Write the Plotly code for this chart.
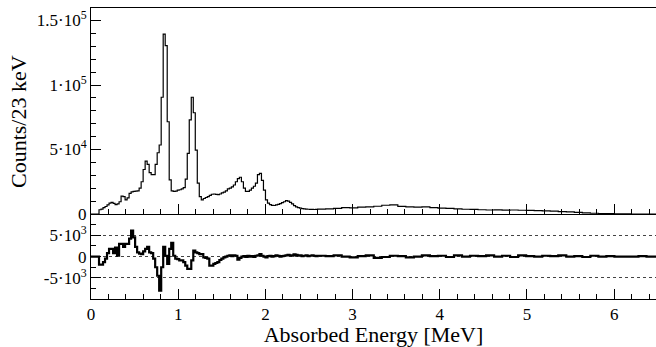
import numpy as np
import plotly.graph_objects as go

# ---------------- data ----------------
FINE_WIDTH = 0.023   # MeV, 0 - 2.599 MeV
TAIL_WIDTH = 0.092   # MeV, 2.599 MeV - end (rebinned tail)

# counts (x1000) per fine bin
counts_fine_k = [
    0, 0, 0, 0, 3.3, 3.8, 5.0, 5.8, 7.0, 8.5,
    9.0, 8.2, 7.3, 7.8, 9.5, 13.8, 13.5, 11.0, 12.5, 16.0,
    17.2, 17.6, 17.8, 18.0, 20.0, 25.0, 34.5, 41.0, 38.5, 32.0,
    30.5, 30.5, 38.5, 47.5, 53.5, 90.5, 139.5, 130.5, 71.5, 26.5,
    18.0, 17.5, 17.8, 18.5, 18.8, 19.5, 20.5, 27.0, 47.0, 73.0,
    90.5, 78.5, 49.5, 24.0, 13.5, 11.0, 12.0, 12.8, 13.5, 14.5,
    15.3, 15.5, 15.2, 15.0, 15.5, 16.3, 17.0, 18.0, 19.5, 20.0,
    21.0, 22.5, 25.0, 27.5, 28.5, 25.0, 20.0, 17.5, 17.5, 18.5,
    20.0, 21.5, 24.0, 30.5, 31.5, 26.0, 18.5, 11.0, 8.5, 7.2,
    6.7, 6.6, 7.0, 7.5, 8.0, 8.8, 9.5, 10.3, 10.0, 9.0,
    7.8, 6.5, 5.6, 5.0, 4.5, 4.2, 4.0, 3.8, 3.7, 3.6,
    3.6, 3.5, 3.6,
]
# counts (x1000) per tail bin
counts_tail_k = [
    3.8, 3.9, 4.3, 5.0, 4.8, 5.4, 5.6, 6.0, 6.8, 7.0,
    5.9, 5.6, 5.4, 5.5, 4.9, 4.6, 4.4, 4.0, 3.7, 3.6,
    3.3, 3.1, 3.2, 3.0, 3.1, 2.9, 2.8, 2.6, 2.4, 2.2,
    1.9, 1.6, 1.2, 0.9, 0.6, 0.4, 0.25, 0.1, 0.05, 0.0,
    0.0, 0.0, 0.0,
]
# residual counts per fine bin
resid_fine = [
    0, 0, 0, 0, -1900, -1900, -1300, -500, 800, 1800,
    1800, 800, 2100, 200, 3000, 3000, 2300, 3000, 3000, 4200,
    6100, 4500, 2300, 1000, 700, 600, 1200, 1800, 2300, 1000,
    800, -500, -2500, -4500, -8000, -2500, 2300, 200, -1700, 1800,
    3200, 200, -500, -600, -900, -900, -1300, -2100, -2900, -2900,
    -900, 1400, 1000, 800, 600, 600, -200, -300, -500, -2100,
    -2100, -1700, -1500, -1300, -800, -500, -200, 0, 200, 300,
    100, 300, 200, -700, -300, 0, 100, -100, 200, 0,
    100, -100, 200, 300, 600, 200, 0, -200, 100, 200,
    0, 100, 300, 200, 0, 100, 200, 300, 400, 300,
    200, 500, 400, 200, 300, 100, 200, 300, 100, 200,
    300, 200, 100,
]
# residual counts per tail bin
resid_tail = [
    200, 100, 300, 0, -200, 100, 300, -300, -100, 200,
    100, -200, 0, 300, 100, 200, -100, 300, 0, 200,
    100, 300, 0, 200, -100, 300, 100, 0, 200, 100,
    300, 0, 100, -100, 200, 0, 100, 0, 0, 0,
    100, 0, 0,
]

# tick label texts
y_top_alias = {"0": "0", "50k": "5·10<sup>4</sup>", "100k": "1·10<sup>5</sup>",
               "150k": "1.5·10<sup>5</sup>"}
y_bot_alias = {"0": "0", "5k": "5·10<sup>3</sup>", "−5k": "-5·10<sup>3</sup>",
               "-5k": "-5·10<sup>3</sup>", "10k": "", "−10k": "", "-10k": ""}

# ---------------- build step arrays ----------------
n_fine = len(counts_fine_k)
fine_edges = FINE_WIDTH * np.arange(n_fine + 1)
tail_edges = fine_edges[-1] + TAIL_WIDTH * np.arange(1, len(counts_tail_k) + 1)
edges = np.concatenate([fine_edges, tail_edges])
counts = np.array(counts_fine_k + counts_tail_k) * 1000.0
resid = np.array(resid_fine + resid_tail, dtype=float)
y_step = np.append(counts, counts[-1])
r_step = np.append(resid, resid[-1])

FONT = "Liberation Serif"
TICKFONT = dict(family=FONT, size=17, color="black")

fig = go.Figure()
fig.add_trace(go.Scatter(x=edges, y=y_step, mode="lines", line_shape="hv",
                         line=dict(color="black", width=1.2),
                         xaxis="x", yaxis="y", showlegend=False))
fig.add_trace(go.Scatter(x=edges, y=r_step, mode="lines", line_shape="hv",
                         line=dict(color="black", width=2.2),
                         xaxis="x2", yaxis="y2", showlegend=False))

XR = [0, 6.48]
split = (299 - 214) / 291.0

fig.update_layout(
    width=656, height=347,
    margin=dict(l=91, r=0, t=8, b=48),
    paper_bgcolor="white", plot_bgcolor="white",
    font=dict(family=FONT, size=17, color="black"),
    xaxis=dict(anchor="y", range=XR, showline=True, linecolor="black",
               mirror=True, ticks="inside", ticklen=10, tickcolor="black",
               tick0=0, dtick=1, showticklabels=False, showgrid=False,
               zeroline=False,
               minor=dict(ticks="inside", ticklen=5, tickcolor="black",
                          dtick=0.2, showgrid=False)),
    xaxis2=dict(anchor="y2", range=XR, showline=True, linecolor="black",
                ticks="inside", ticklen=10, tickcolor="black",
                tick0=0, dtick=1, tickfont=TICKFONT, showgrid=False,
                zeroline=False,
                minor=dict(ticks="inside", ticklen=5, tickcolor="black",
                           dtick=0.2, showgrid=False),
                title=dict(text="Absorbed Energy [MeV]",
                           font=dict(family=FONT, size=22), standoff=3)),
    yaxis=dict(domain=[split, 1], range=[0, 159700], showline=True,
               linecolor="black", mirror=True,
               ticks="inside", ticklen=10, tickcolor="black",
               tick0=0, dtick=50000, labelalias=y_top_alias,
               tickfont=TICKFONT, showgrid=False, zeroline=False,
               minor=dict(ticks="inside", ticklen=5, tickcolor="black",
                          dtick=10000, showgrid=False)),
    yaxis2=dict(domain=[0, split], range=[-9950, 9990], showline=True,
                linecolor="black", mirror=True,
                ticks="inside", ticklen=10, tickcolor="black",
                tick0=0, dtick=5000, labelalias=y_bot_alias,
                tickfont=TICKFONT,
                showgrid=True, gridcolor="#444", griddash="dot", gridwidth=1,
                zeroline=False,
                minor=dict(ticks="inside", ticklen=5, tickcolor="black",
                           dtick=2500, showgrid=False)),
    annotations=[dict(text="Counts/23 keV", textangle=-90, xref="paper",
                      yref="paper", x=-73 / 565, y=(299 - 122) / 291,
                      xanchor="center", yanchor="middle", showarrow=False,
                      font=dict(size=22, family=FONT))],
)

fig.write_html("out.html")
